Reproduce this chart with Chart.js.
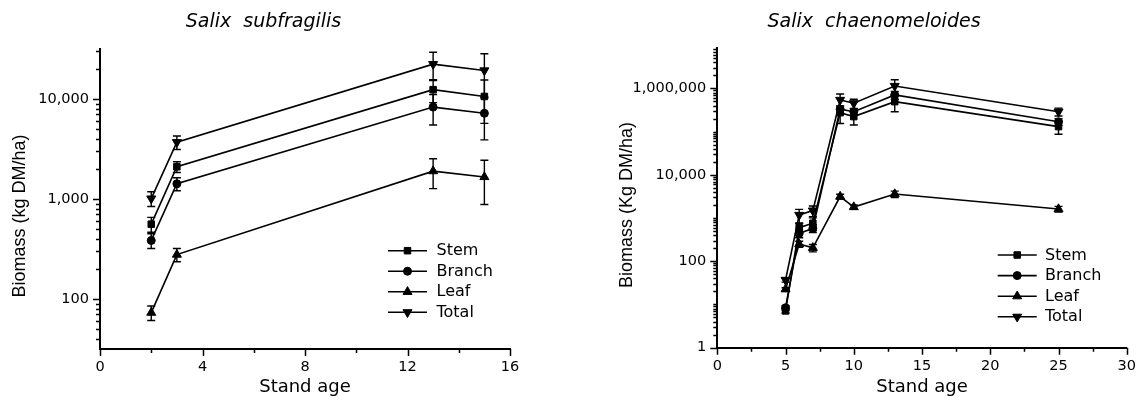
<!DOCTYPE html>
<html><head><meta charset="utf-8">
<style>
html,body{margin:0;padding:0;background:#fff;}
#wrap{position:relative;width:1146px;height:400px;overflow:hidden;background:#fff;}
canvas{position:absolute;top:0;}
#c1{left:0;}
#c2{left:573px;}
</style>
<script src="https://cdn.jsdelivr.net/npm/chart.js"></script>
</head><body>
<div id="wrap"><canvas id="c1" width="573" height="400"></canvas><canvas id="c2" width="573" height="400"></canvas></div>
<script>
// ---------------- DATA ----------------
const seriesNames = ['Stem', 'Branch', 'Leaf', 'Total'];

// Salix subfragilis
const titleSub = 'Salix  subfragilis';
const ageSub = [2, 3, 13, 15];
const stemSub = [560, 2100, 12400, 10600];
const stemSubErr = [95, 260, 3200, 4900];
const branchSub = [385, 1420, 8300, 7200];
const branchSubErr = [65, 210, 2800, 3300];
const leafSub = [73, 278, 1900, 1660];
const leafSubErr = [12, 42, 630, 780];
const totalSub = [1010, 3700, 22300, 19300];
const totalSubErr = [170, 570, 7000, 9000];
const xTicksSub = [0, 4, 8, 12, 16];
const yTicksSub = [100, 1000, 10000];

// Salix chaenomeloides
const titleCha = 'Salix  chaenomeloides';
const ageCha = [5, 6, 7, 9, 10, 13, 25];
const stemCha = [7.1, 600, 760, 275000, 223000, 495000, 131000];
const stemChaErr = [0.8, 150, 250, 120000, 80000, 205000, 44000];
const branchCha = [8.4, 440, 580, 330000, 290000, 708000, 170000];
const branchChaErr = [1, 90, 120, 60000, 50000, 150000, 30000];
const leafCha = [22.5, 250, 205, 3150, 1800, 3600, 1620];
const leafChaErr = [2, 40, 40, 400, 200, 600, 250];
const totalCha = [37, 1180, 1490, 542000, 454000, 1140000, 290000];
const totalChaErr = [4, 410, 410, 200000, 110000, 450000, 60000];
const xTicksCha = [0, 5, 10, 15, 20, 25, 30];
const yTicksCha = [1, 100, 10000, 1000000];

// ---------------- STYLE ----------------
const FONT = '"DejaVu Sans", sans-serif';
const markers = [
  {pointStyle: 'rect', radius: 4.6, rotation: 0},
  {pointStyle: 'circle', radius: 4, rotation: 0},
  {pointStyle: 'triangle', radius: 5.2, rotation: 0},
  {pointStyle: 'triangle', radius: 5.2, rotation: 180}
];

function near(arr, v) {
  return arr.some(a => Math.abs(a - v) <= Math.abs(a) * 1e-7 + 1e-9);
}

function drawMarker(ctx, m, x, y) {
  ctx.fillStyle = '#000';
  ctx.strokeStyle = '#000';
  ctx.lineWidth = 1;
  if (Chart.helpers && Chart.helpers.drawPoint) {
    Chart.helpers.drawPoint(ctx, {pointStyle: m.pointStyle, radius: m.radius, rotation: m.rotation, borderWidth: 1}, x, y);
  }
}

const decoPlugin = {
  id: 'deco',
  beforeDatasetsDraw(chart, args, o) {
    const ctx = chart.ctx, xs = chart.scales.x, ys = chart.scales.y;
    ctx.save();
    ctx.strokeStyle = '#000';
    ctx.lineWidth = 1.4;
    const cap = 4;
    chart.data.datasets.forEach(ds => {
      (ds.errors || []).forEach((e, i) => {
        const p = ds.data[i];
        const px = xs.getPixelForValue(p.x);
        const pc = ys.getPixelForValue(p.y);
        const ph = ys.getPixelForValue(p.y + e);
        const lv = p.y - e;
        const pl = lv > 0 ? ys.getPixelForValue(lv) : ys.bottom;
        ctx.beginPath();
        ctx.moveTo(px, ph); ctx.lineTo(px, pl);
        ctx.moveTo(px - cap, ph); ctx.lineTo(px + cap, ph);
        if (lv > 0) { ctx.moveTo(px - cap, pl); ctx.lineTo(px + cap, pl); }
        ctx.stroke();
      });
    });
    ctx.restore();
  },
  afterDraw(chart, args, o) {
    const ctx = chart.ctx, xs = chart.scales.x, ys = chart.scales.y;
    const area = chart.chartArea;
    ctx.save();
    ctx.strokeStyle = '#000';
    ctx.lineWidth = 1.5;
    // y tick marks (log scale)
    const e0 = Math.floor(Math.log10(ys.min)) , e1 = Math.ceil(Math.log10(ys.max));
    ctx.beginPath();
    for (let e = e0; e <= e1; e++) {
      for (let k = 1; k <= 9; k++) {
        const v = k * Math.pow(10, e);
        if (v < ys.min * 0.9999 || v > ys.max * 1.0001) continue;
        const len = near(o.yMajor, v) ? 7 : 4;
        const py = Math.round(ys.getPixelForValue(v)) + 0.5;
        ctx.moveTo(area.left - len, py); ctx.lineTo(area.left, py);
      }
    }
    // x tick marks
    for (let v = xs.min; v <= xs.max + 1e-9; v += o.xMinorStep) {
      const len = near(o.xMajor, v) ? 7 : 4;
      const px = Math.round(xs.getPixelForValue(v)) + 0.5;
      ctx.moveTo(px, area.bottom); ctx.lineTo(px, area.bottom + len);
    }
    ctx.stroke();

    // chart title
    ctx.fillStyle = '#000';
    ctx.font = 'italic 19px ' + FONT;
    ctx.textAlign = 'center';
    ctx.textBaseline = 'alphabetic';
    ctx.fillText(o.title, o.titleX, o.titleY);

    // y axis title
    ctx.save();
    ctx.translate(o.yTitleX, o.yTitleY);
    ctx.rotate(-Math.PI / 2);
    ctx.font = '18px "Liberation Sans", Arial, sans-serif';
    ctx.textAlign = 'center';
    ctx.textBaseline = 'middle';
    ctx.fillText(o.yTitle, 0, 0);
    ctx.restore();

    // legend
    ctx.font = '16px ' + FONT;
    ctx.textAlign = 'left';
    ctx.textBaseline = 'middle';
    chart.data.datasets.forEach((ds, i) => {
      const y = o.legY[i];
      ctx.strokeStyle = '#000';
      ctx.lineWidth = 1.6;
      ctx.beginPath();
      ctx.moveTo(o.legX1, y); ctx.lineTo(o.legX2, y);
      ctx.stroke();
      drawMarker(ctx, markers[i], (o.legX1 + o.legX2) / 2, y);
      ctx.fillStyle = '#000';
      ctx.fillText(ds.label, o.legTX, y + 0.5);
    });
    ctx.restore();
  }
};

function makeChart(id, c) {
  const vals = [c.stem, c.branch, c.leaf, c.total];
  const errs = [c.stemErr, c.branchErr, c.leafErr, c.totalErr];
  const datasets = seriesNames.map((name, i) => ({
    label: name,
    data: c.x.map((x, j) => ({x: x, y: vals[i][j]})),
    errors: errs[i],
    borderColor: '#000',
    backgroundColor: '#000',
    borderWidth: 1.6,
    pointStyle: markers[i].pointStyle,
    pointRadius: markers[i].radius,
    pointRotation: markers[i].rotation,
    pointBackgroundColor: '#000',
    pointBorderColor: '#000',
    pointBorderWidth: 1,
    tension: 0,
    fill: false,
    clip: false
  }));
  const tickFont = {family: FONT, size: 14.5};
  return new Chart(document.getElementById(id), {
    type: 'line',
    data: {datasets: datasets},
    plugins: [decoPlugin],
    options: {
      responsive: false,
      animation: false,
      devicePixelRatio: 1,
      events: [],
      layout: {padding: {left: 0, right: c.padRight, top: c.padTop, bottom: 0}},
      plugins: {
        legend: {display: false},
        tooltip: {enabled: false},
        title: {display: false},
        deco: {
          title: c.title, titleX: c.titleX, titleY: 26.7,
          yTitle: c.yTitle, yTitleX: c.yTitleX, yTitleY: c.yTitleY,
          yMajor: c.yTicks, xMajor: c.xTicks, xMinorStep: c.xMinorStep,
          legX1: c.legX1, legX2: c.legX2, legTX: c.legTX, legY: c.legY
        }
      },
      scales: {
        x: {
          type: 'linear',
          min: c.xMin, max: c.xMax,
          grid: {display: false, drawTicks: false},
          border: {display: true, color: '#000', width: 2},
          ticks: {
            stepSize: c.xMinorStep, autoSkip: false, maxRotation: 0, minRotation: 0,
            padding: 10, color: '#000', font: tickFont,
            callback: v => near(c.xTicks, v) ? String(v) : ''
          },
          title: {display: true, text: 'Stand age', color: '#000', font: {family: FONT, size: 18}, padding: {top: 0, bottom: 1.5}},
          afterFit: s => { s.height = c.xH; }
        },
        y: {
          type: 'logarithmic',
          min: c.yMin, max: c.yMax,
          grid: {display: false, drawTicks: false},
          border: {display: true, color: '#000', width: 2},
          ticks: {
            autoSkip: false, padding: 11, color: '#000', font: tickFont,
            callback: v => near(c.yTicks, v) ? Number(v).toLocaleString('en-US') : ''
          },
          afterFit: s => { s.width = c.yW; }
        }
      }
    }
  });
}

makeChart('c1', {
  x: ageSub, stem: stemSub, stemErr: stemSubErr, branch: branchSub, branchErr: branchSubErr,
  leaf: leafSub, leafErr: leafSubErr, total: totalSub, totalErr: totalSubErr,
  xTicks: xTicksSub, yTicks: yTicksSub, xMin: 0, xMax: 16, xMinorStep: 2,
  yMin: Math.pow(10, 1.5), yMax: Math.pow(10, 4.5),
  yW: 100, xH: 51, padTop: 49, padRight: 63,
  title: titleSub, titleX: 263.5,
  yTitle: 'Biomass (kg DM/ha)', yTitleX: 20, yTitleY: 216,
  legX1: 388, legX2: 427, legTX: 436.5, legY: [250.7, 271.2, 291.8, 312.3]
});

makeChart('c2', {
  x: ageCha, stem: stemCha, stemErr: stemChaErr, branch: branchCha, branchErr: branchChaErr,
  leaf: leafCha, leafErr: leafChaErr, total: totalCha, totalErr: totalChaErr,
  xTicks: xTicksCha, yTicks: yTicksCha, xMin: 0, xMax: 30, xMinorStep: 2.5,
  yMin: 1, yMax: 8.5e6,
  yW: 144.3, xH: 52.3, padTop: 48.3, padRight: 18.3,
  title: titleCha, titleX: 301,
  yTitle: 'Biomass (Kg DM/ha)', yTitleX: 54.4, yTitleY: 205,
  legX1: 424.7, legX2: 463.7, legTX: 472, legY: [255, 275.6, 296.2, 316.8]
});
</script>
</body></html>
